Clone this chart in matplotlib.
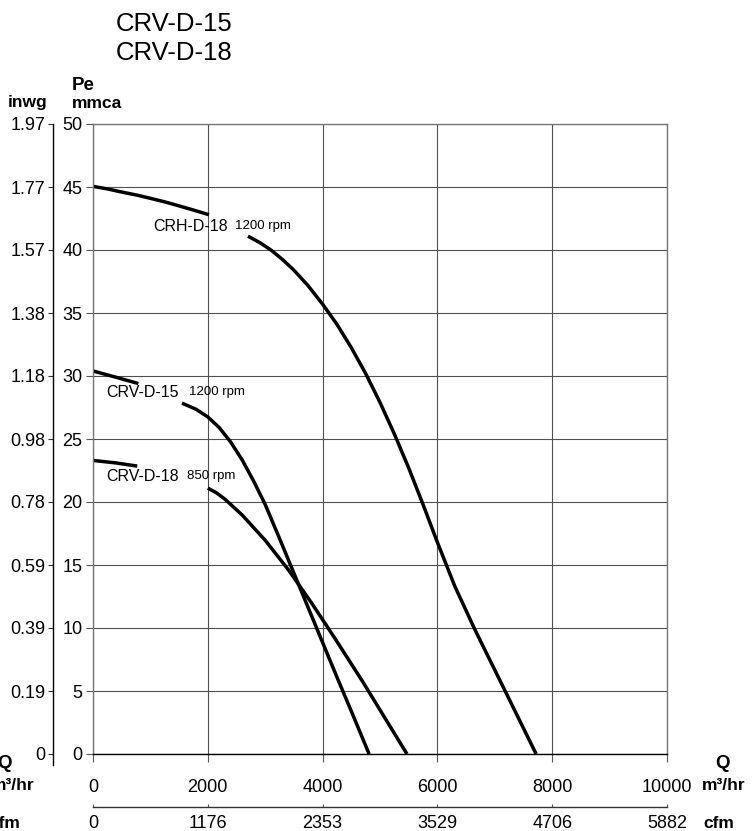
import matplotlib
matplotlib.use("Agg")
import matplotlib.pyplot as plt

plt.rcParams['font.family'] = ['Liberation Sans', 'DejaVu Sans']

# --- data ---
q_ticks = [0, 2000, 4000, 6000, 8000, 10000]
cfm_labels = ["0", "1176", "2353", "3529", "4706", "5882"]
mmca_ticks = [0, 5, 10, 15, 20, 25, 30, 35, 40, 45, 50]
inwg_labels = ["0", "0.19", "0.39", "0.59", "0.78", "0.98", "1.18", "1.38", "1.57", "1.77", "1.97"]

# CRH-D-18 1200 rpm (two pieces, gap for label)
crh18_q1 = [0, 250, 500, 750, 1000, 1250, 1500, 1750, 2020]
crh18_p1 = [45.05, 44.85, 44.6, 44.37, 44.1, 43.82, 43.5, 43.17, 42.8]
crh18_q2 = [2700, 2900, 3100, 3300, 3500, 3750, 4000, 4250, 4500, 4750,
            5000, 5250, 5500, 5750, 6000, 6300, 6650, 7180, 7720]
crh18_p2 = [41.1, 40.6, 40.0, 39.25, 38.4, 37.15, 35.7, 34.1, 32.25, 30.2,
            27.9, 25.4, 22.7, 19.8, 16.8, 13.35, 9.9, 5.0, 0]

# CRV-D-15 1200 rpm
crv15_q1 = [0, 400, 790]
crv15_p1 = [30.4, 29.9, 29.4]
crv15_q2 = [1550, 1800, 2000, 2200, 2400, 2600, 2800, 3000, 3250, 3500,
            3750, 4000, 4250, 4500, 4810]
crv15_p2 = [27.85, 27.35, 26.75, 25.9, 24.75, 23.33, 21.65, 19.8, 17.1, 14.35,
            11.6, 8.85, 6.1, 3.4, 0]

# CRV-D-18 850 rpm
crv18_q1 = [0, 400, 770]
crv18_p1 = [23.3, 23.1, 22.85]
crv18_q2 = [2000, 2150, 2300, 2600, 3000, 3400, 3800, 4200, 4700, 5470]
crv18_p2 = [21.1, 20.73, 20.22, 18.96, 16.96, 14.64, 12.04, 9.28, 5.73, 0]

W, H = 752, 831


def fx(px):
    return px / W


def fy(py):
    return 1 - py / H


fig = plt.figure(figsize=(W / 100, H / 100), dpi=100)

# main plot box (pixels): x 93..667, y 124..754
L, R, T, B = 93, 667, 124, 754
ax = fig.add_axes([fx(L), fy(B), (R - L) / W, (B - T) / H])
ax.set_xlim(0, 10000)
ax.set_ylim(0, 50)

ax.set_xticks(q_ticks)
ax.set_xticklabels([str(v) for v in q_ticks])
ax.set_yticks(mmca_ticks)
ax.set_yticklabels([str(v) for v in mmca_ticks])
ax.tick_params(axis='x', direction='out', length=6, width=0.8, pad=12,
               labelsize=13, color='#555555')
ax.tick_params(axis='y', direction='out', length=5, width=0.8, pad=2.5,
               labelsize=13, color='#555555')
ax.grid(True, color='#505050', linewidth=0.8)
ax.set_axisbelow(True)
for side in ['left', 'top', 'right']:
    ax.spines[side].set_color('#777777')
    ax.spines[side].set_linewidth(1.0)
ax.spines['bottom'].set_color('black')
ax.spines['bottom'].set_linewidth(1.0)

lw = 2.5
for qs, ps in [(crh18_q1, crh18_p1), (crh18_q2, crh18_p2),
               (crv15_q1, crv15_p1), (crv15_q2, crv15_p2),
               (crv18_q1, crv18_p1), (crv18_q2, crv18_p2)]:
    ax.plot(qs, ps, color='black', lw=lw, solid_capstyle='butt',
            solid_joinstyle='round')

narrow = ['Liberation Sans Narrow', 'Liberation Sans', 'DejaVu Sans']
ax.text(1045, 41.9, "CRH-D-18", fontsize=11.5, va='center', ha='left')
ax.text(2474, 41.9, "1200 rpm", fontsize=9.5, va='center', ha='left', family=narrow)
ax.text(226, 28.7, "CRV-D-15", fontsize=11.5, va='center', ha='left')
ax.text(1672, 28.7, "1200 rpm", fontsize=9.5, va='center', ha='left', family=narrow)
ax.text(226, 22.05, "CRV-D-18", fontsize=11.5, va='center', ha='left')
ax.text(1638, 22.05, "850 rpm", fontsize=9.5, va='center', ha='left', family=narrow)

# cfm axis below
cfm = ax.secondary_xaxis(-(807 - B) / (B - T))
cfm.set_xticks(q_ticks)
cfm.set_xticklabels(cfm_labels)
cfm.tick_params(direction='in', length=2, width=0.8, pad=6, labelsize=13, color='#555555')
cfm.spines['bottom'].set_color('#333333')
cfm.spines['bottom'].set_linewidth(1.0)

# inwg axis on the far left
px_per_unit = (B - T) / 50
inwg_bottom = 765
ax2 = fig.add_axes([fx(53), fy(inwg_bottom), 0.0001, (inwg_bottom - T) / H])
ax2.set_ylim(-(inwg_bottom - B) / px_per_unit, 50)
ax2.set_yticks(mmca_ticks)
ax2.set_yticklabels(inwg_labels)
ax2.tick_params(axis='y', direction='out', length=3.5, width=0.8, pad=2,
                labelsize=13, color='#333333')
ax2.set_xticks([])
ax2.patch.set_visible(False)
for side in ['right', 'top', 'bottom']:
    ax2.spines[side].set_visible(False)
ax2.spines['left'].set_color('black')
ax2.spines['left'].set_linewidth(1.0)

# titles and unit labels
fig.text(fx(174), fy(24), "CRV-D-15", fontsize=18.5, ha='center', va='center')
fig.text(fx(174), fy(53), "CRV-D-18", fontsize=18.5, ha='center', va='center')
fig.text(fx(83), fy(86), "Pe", fontsize=13.5, fontweight='bold', ha='center', va='center')
fig.text(fx(28), fy(103), "inwg", fontsize=12.5, fontweight='bold', ha='center', va='center')
fig.text(fx(97), fy(103), "mmca", fontsize=12.5, fontweight='bold', ha='center', va='center')

fig.text(fx(722), fy(763), "Q", fontsize=13.5, fontweight='bold', ha='center', va='center')
fig.text(fx(702), fy(786), "m³/hr", fontsize=12.5, fontweight='bold', ha='left', va='center')
fig.text(fx(703), fy(823), "cfm", fontsize=12.5, fontweight='bold', ha='left', va='center')
# left-hand copies sit partly outside the picture, as in the reference
fig.text(fx(5), fy(763), "Q", fontsize=13.5, fontweight='bold', ha='center', va='center')
fig.text(fx(34), fy(786), "m³/hr", fontsize=12.5, fontweight='bold', ha='right', va='center')
fig.text(fx(20), fy(823), "cfm", fontsize=12.5, fontweight='bold', ha='right', va='center')

fig.savefig("out.png", dpi=100)
